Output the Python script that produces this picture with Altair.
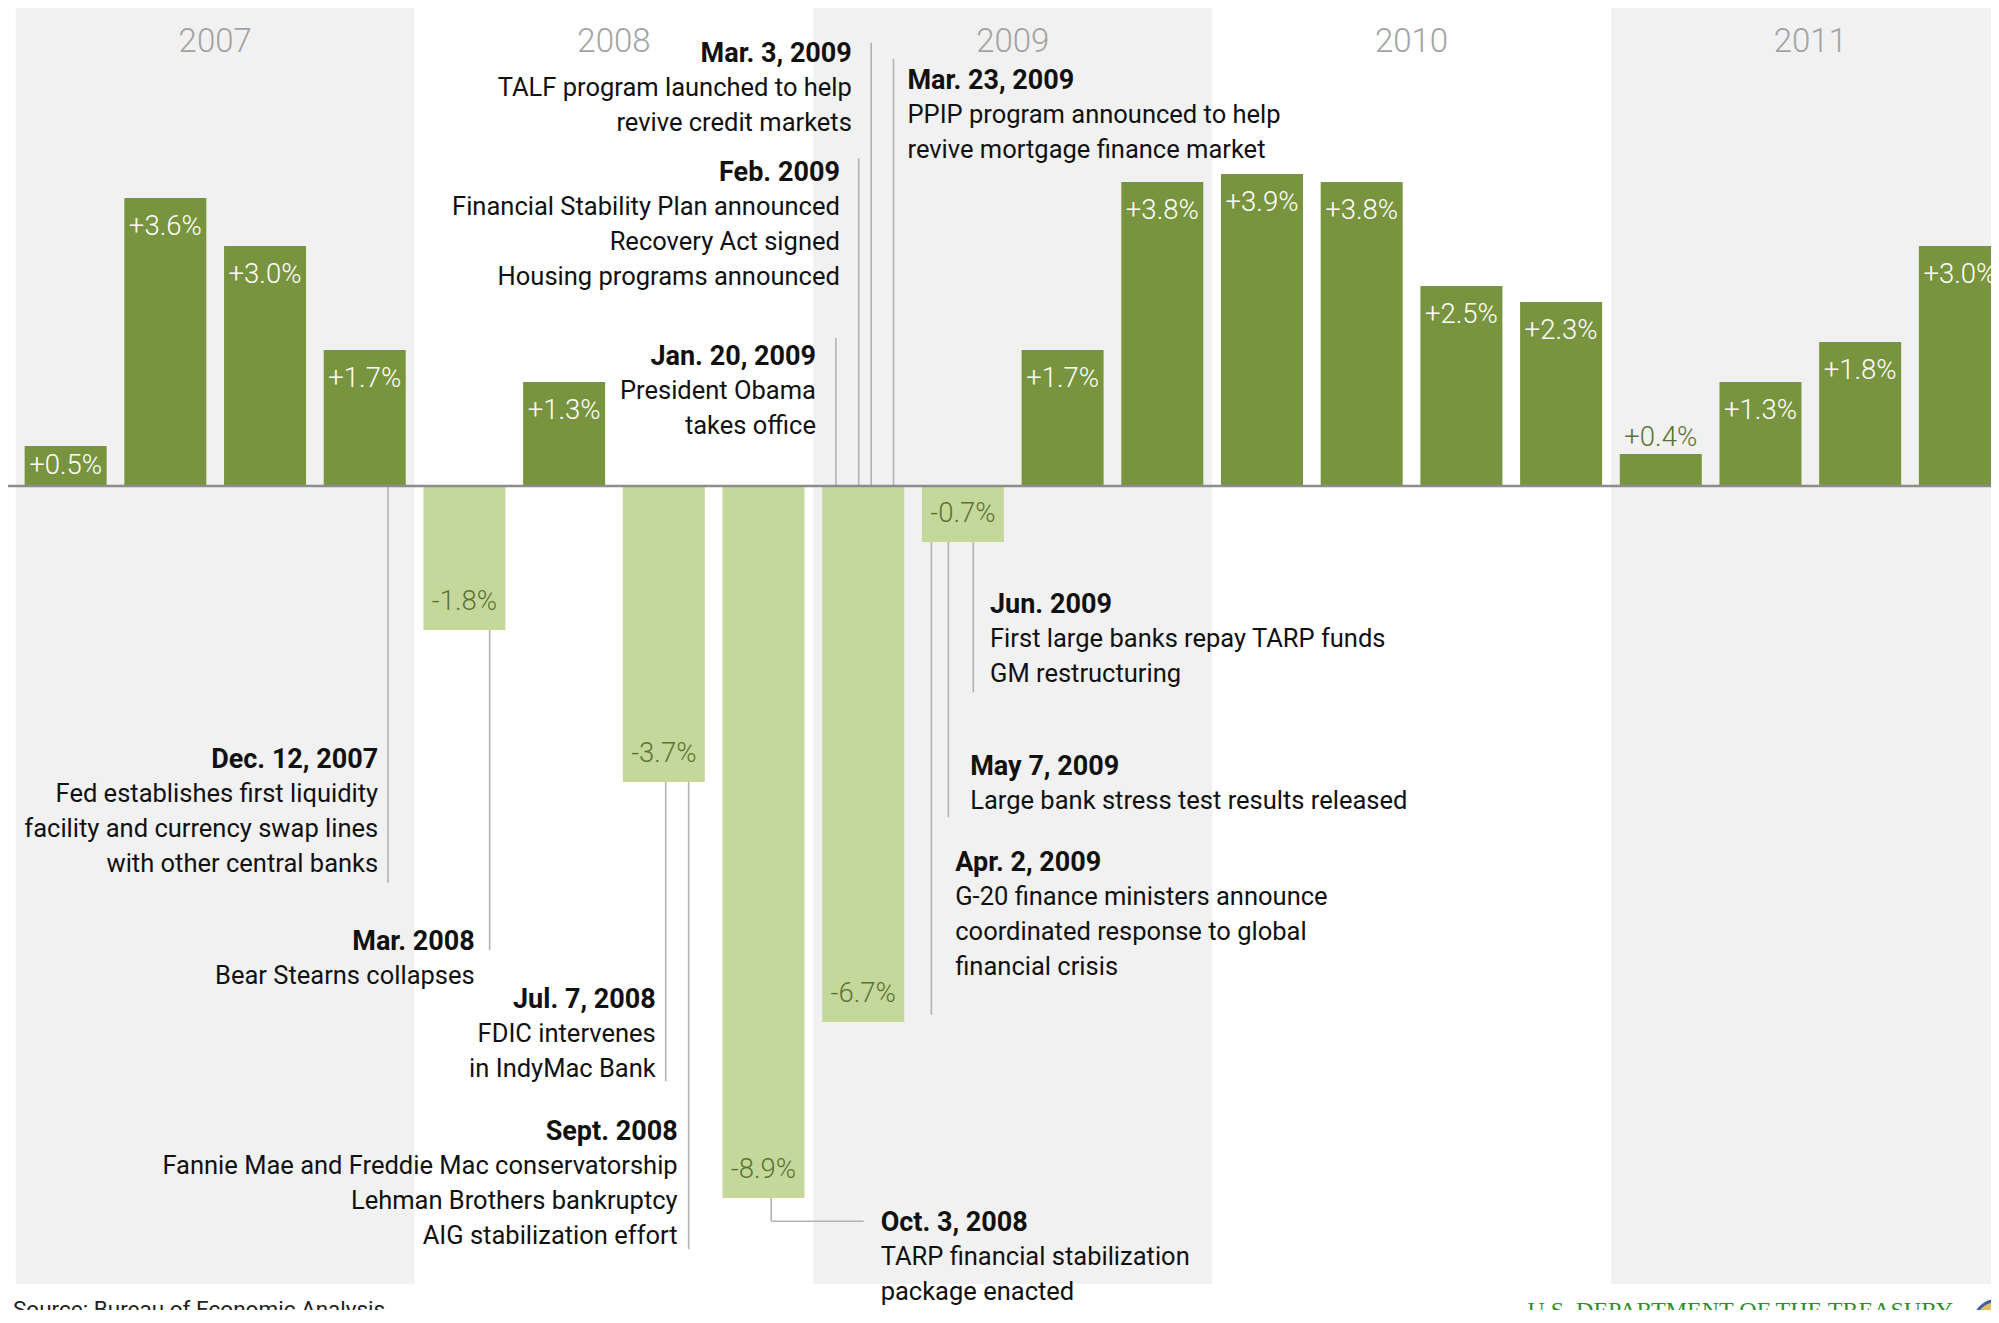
import altair as alt
import pandas as pd

# ---------------- data ----------------
years = ["2007", "2008", "2009", "2010", "2011"]
shaded = [True, False, True, False, True]
quarter_idx = list(range(20))
growth = [0.5, 3.6, 3.0, 1.7,
          -1.8, 1.3, -3.7, -8.9,
          -6.7, -0.7, 1.7, 3.8,
          3.9, 3.8, 2.5, 2.3,
          0.4, 1.3, 1.8, 3.0]

# annotations: x in quarters since 2007 Q1 start, y in percent
ann_title = ["Dec. 12, 2007", "Mar. 2008", "Jul. 7, 2008", "Sept. 2008", "Oct. 3, 2008",
             "Jan. 20, 2009", "Feb. 2009", "Mar. 3, 2009", "Mar. 23, 2009",
             "Apr. 2, 2009", "May 7, 2009", "Jun. 2009"]
ann_body = [
    ["Fed establishes first liquidity", "facility and currency swap lines", "with other central banks"],
    ["Bear Stearns collapses"],
    ["FDIC intervenes", "in IndyMac Bank"],
    ["Fannie Mae and Freddie Mac conservatorship", "Lehman Brothers bankruptcy", "AIG stabilization effort"],
    ["TARP financial stabilization", "package enacted"],
    ["President Obama", "takes office"],
    ["Financial Stability Plan announced", "Recovery Act signed", "Housing programs announced"],
    ["TALF program launched to help", "revive credit markets"],
    ["PPIP program announced to help", "revive mortgage finance market"],
    ["G-20 finance ministers announce", "coordinated response to global", "financial crisis"],
    ["Large bank stress test results released"],
    ["First large banks repay TARP funds", "GM restructuring"],
]
ann_x = [3.635, 4.603, 6.419, 6.639, 8.675, 8.026, 8.266, 8.386, 8.944, 9.423, 9.573, 9.772]
ann_y = [-3.40, -5.675, -6.40, -8.05, -9.19, 1.6375, 3.9375, 5.425, 5.0875, -4.6875, -3.4875, -1.4625]
ann_align = ["right", "right", "right", "right", "left", "right", "right", "right", "left", "left", "left", "left"]

# leader lines (x, y start, x end, y end)
lead_x = [3.734, 4.753, 6.519, 6.749, 7.577, 7.577, 8.226, 8.455, 8.580, 8.804, 9.184, 9.354, 9.604]
lead_x2 = [3.734, 4.753, 6.519, 6.749, 7.577, 8.505, 8.226, 8.455, 8.580, 8.804, 9.184, 9.354, 9.604]
lead_y = [0.0, -1.8, -3.7, -3.7, -8.9, -9.19, 0.0, 0.0, 0.0, 0.0, -0.7, -0.7, -0.7]
lead_y2 = [-4.96, -5.8, -7.44, -9.54, -9.19, -9.19, 1.85, 4.1, 5.54, 5.34, -6.61, -4.14, -2.58]

source_text = "Source: Bureau of Economic Analysis"
agency_text = "U.S. DEPARTMENT OF THE TREASURY"

# ---------------- styling ----------------
FONT = "Roboto"
DARK = "#79943e"
LIGHT = "#c5d89c"
NEGTXT = "#5c7232"
BAND = "#f1f1f1"

W, H = 1983, 1302
XDOM = [-0.028, 19.762]
YDOM = [-10.3, 5.975]

xs = alt.Scale(domain=XDOM, nice=False, zero=False)
ys = alt.Scale(domain=YDOM, nice=False, zero=False)
X = lambda f: alt.X(f, type="quantitative", scale=xs, axis=None)
Y = lambda f: alt.Y(f, type="quantitative", scale=ys, axis=None)

# tables
bands = pd.DataFrame({
    "start": [4 * i for i in range(5)],
    "end": [4 * i + 4 for i in range(5)],
    "mid": [4 * i + 2 for i in range(5)],
    "year": years,
    "shaded": shaded,
    "top": [6.0] * 5,
    "bottom": [-9.975] * 5,
    "ylab": [5.55] * 5,
})

bars = pd.DataFrame({"q": quarter_idx, "v": growth})
bars["c"] = bars["q"] + 0.5
bars["base"] = 0.0
bars["label"] = [f"{v:+.1f}%" for v in growth]
bars["pos"] = bars["v"] > 0


def label_y(v):
    if v >= 1:
        return v - 0.36
    if v > 0.45:
        return v / 2
    if v > 0:
        return v + 0.2
    return v + 0.35


bars["ly"] = [label_y(v) for v in growth]
bars["lcolor"] = ["white" if v > 0.45 else NEGTXT for v in growth]

ann = pd.DataFrame({"title": ann_title, "x": ann_x, "y": ann_y, "align": ann_align})
ann["body"] = ann_body
leads = pd.DataFrame({"x": lead_x, "x2": lead_x2, "y": lead_y, "y2": lead_y2})

band_layer = alt.Chart(bands).transform_filter("datum.shaded").mark_rect(
    color=BAND, clip=True
).encode(x=X("start"), x2="end", y=Y("bottom"), y2="top")

year_layer = alt.Chart(bands).mark_text(
    font=FONT, fontSize=33, fontWeight=300, color="#a3a3a3", baseline="middle", align="center"
).encode(x=X("mid"), y=Y("ylab"), text="year")

bar_layer = alt.Chart(bars).mark_bar(size=82, clip=True).encode(
    x=X("c"), y=Y("v"), y2="base",
    color=alt.Color("pos:N", scale=alt.Scale(domain=[True, False], range=[DARK, LIGHT]), legend=None),
)

lead_layer = alt.Chart(leads).mark_rule(color="#b3b3b3", strokeWidth=1.6).encode(
    x=X("x"), x2="x2", y=Y("y"), y2="y2"
)

zero_layer = alt.Chart(bars).transform_filter("datum.q == 0").mark_rule(
    color="#8c8c8c", strokeWidth=2.5
).encode(x=alt.value(0), x2=alt.value(W), y=Y("base"))

label_layer = alt.Chart(bars).mark_text(
    font=FONT, fontSize=27.5, fontWeight=300, baseline="middle", align="center"
).encode(x=X("c"), y=Y("ly"), text="label", color=alt.Color("lcolor:N", scale=None))

title_layers = []
body_layers = []
for al in ["left", "right"]:
    sub = ann[ann["align"] == al]
    title_layers.append(
        alt.Chart(sub).mark_text(
            font=FONT, fontSize=27, fontWeight="bold", color="#111111",
            align=al, baseline="middle", dy=2
        ).encode(x=X("x"), y=Y("y"), text="title")
    )
    body_layers.append(
        alt.Chart(sub).mark_text(
            font=FONT, fontSize=25.5, color="#111111", lineHeight=35,
            align=al, baseline="top", dy=24
        ).encode(x=X("x"), y=Y("y"), text="body")
    )

foot = pd.DataFrame({
    "t": [source_text, agency_text],
    "x": [-0.028, 15.162],
    "y": [-10.16, -10.16],
})
source_layer = alt.Chart(foot.iloc[[0]]).mark_text(
    font=FONT, fontSize=22.5, color="#222222", align="left", baseline="top"
).encode(x=X("x"), y=Y("y"), text="t")
agency_layer = alt.Chart(foot.iloc[[1]]).mark_text(
    font="Liberation Serif", fontSize=24, color="#2f8f2f", align="left", baseline="top"
).encode(x=X("x"), y=Y("y"), text="t")

seal = pd.DataFrame({"x": [19.86], "y": [-10.45]})
seal_layer = alt.Chart(seal).mark_point(
    shape="circle", size=1810, filled=True, color="#e2c15a", stroke="#3d62a3", strokeWidth=3, opacity=1
).encode(x=X("x"), y=Y("y"))

chart = alt.layer(
    band_layer, year_layer, bar_layer, lead_layer, zero_layer, label_layer,
    *title_layers, *body_layers, source_layer, agency_layer, seal_layer
).properties(
    width=W, height=H, padding=0, autosize=alt.AutoSizeParams(type="none"), background="white"
).configure_view(stroke=None)

chart.save("out.html", embed_options={"renderer": "svg", "actions": False})
